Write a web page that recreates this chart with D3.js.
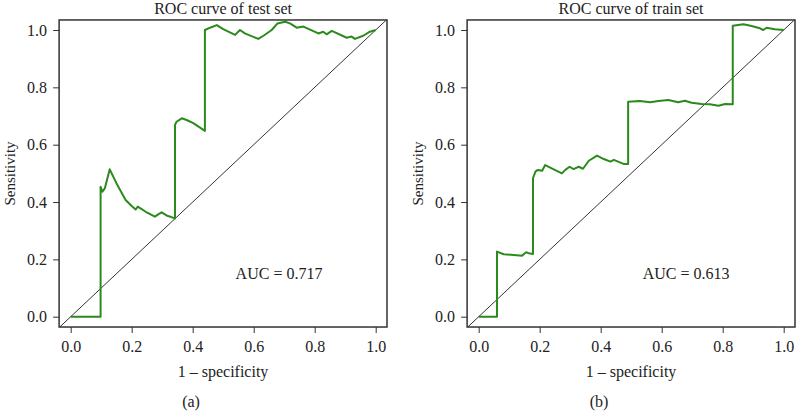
<!DOCTYPE html>
<html><head><meta charset="utf-8">
<script src="https://cdn.jsdelivr.net/npm/d3@7"></script>
<style>body{margin:0;background:#fff}svg{display:block}text{font-family:"Liberation Serif","DejaVu Serif",serif;fill:#222}</style>
</head><body>
<svg id="c" width="797" height="412"></svg>
<script>
const ticks = [0, 0.2, 0.4, 0.6, 0.8, 1.0];
const tickLabels = ["0.0", "0.2", "0.4", "0.6", "0.8", "1.0"];
const titles = ["ROC curve of test set", "ROC curve of train set"];
const aucLabels = ["AUC = 0.717", "AUC = 0.613"];
const panelLabels = ["(a)", "(b)"];
const testFPR = [0,0.098,0.098,0.098,0.098,0.104,0.112,0.128,0.153,0.18,0.2,0.213,0.22,0.246,0.276,0.287,0.298,0.317,0.342,0.342,0.347,0.364,0.38,0.402,0.44,0.44,0.457,0.479,0.5,0.539,0.555,0.571,0.615,0.632,0.659,0.678,0.703,0.719,0.741,0.763,0.812,0.828,0.839,0.856,0.905,0.921,0.932,0.959,0.981,1.0];
const testTPR = [0,0,0.215,0.44,0.453,0.436,0.448,0.514,0.459,0.407,0.386,0.374,0.384,0.366,0.349,0.357,0.364,0.352,0.343,0.669,0.68,0.692,0.686,0.675,0.648,1.0,1.008,1.017,1.003,0.983,1.0,0.988,0.969,0.98,1.0,1.023,1.029,1.023,1.008,1.012,0.988,0.994,0.985,0.997,0.973,0.977,0.969,0.98,0.994,1.0];
const trainFPR = [0,0.06,0.06,0.082,0.115,0.142,0.156,0.164,0.178,0.178,0.186,0.194,0.208,0.218,0.246,0.273,0.284,0.298,0.311,0.328,0.342,0.361,0.388,0.41,0.432,0.443,0.475,0.49,0.49,0.529,0.562,0.589,0.622,0.654,0.676,0.698,0.731,0.758,0.786,0.808,0.833,0.833,0.868,0.895,0.922,0.933,0.944,0.971,1.0];
const trainTPR = [0,0,0.227,0.218,0.215,0.213,0.225,0.221,0.219,0.483,0.506,0.512,0.509,0.529,0.514,0.5,0.512,0.523,0.515,0.523,0.516,0.544,0.562,0.55,0.541,0.547,0.533,0.533,0.75,0.752,0.748,0.752,0.756,0.748,0.753,0.746,0.742,0.741,0.736,0.742,0.741,1.015,1.02,1.014,1.006,1.0,1.008,1.003,1.0];
const aucPos = [[0.683, 0.153], [0.68, 0.153]];

const svg = d3.select("#c");
const panels = [{fpr: testFPR, tpr: testTPR}, {fpr: trainFPR, tpr: trainTPR}];
const offsets = [0, 408];

panels.forEach((p, i) => {
  const g = svg.append("g").attr("transform", `translate(${offsets[i]},0)`);
  const x = d3.scaleLinear().domain([0, 1]).range([70.7, 375.7]);
  const y = d3.scaleLinear().domain([0, 1]).range([316.7, 30]);
  const x0 = x(-0.038), x1 = x(1.037), y0 = y(-0.036), y1 = y(1.035);
  const cid = "clip" + i;
  g.append("clipPath").attr("id", cid).append("rect")
    .attr("x", x0).attr("y", y1).attr("width", x1 - x0).attr("height", y0 - y1);

  // diagonal
  g.append("line").attr("clip-path", `url(#${cid})`)
    .attr("x1", x(-0.05)).attr("y1", y(-0.05)).attr("x2", x(1.05)).attr("y2", y(1.05))
    .attr("stroke", "#000").attr("stroke-width", 0.8);

  // curve
  const pts = p.fpr.map((v, k) => [v, p.tpr[k]]);
  g.append("path").datum(pts)
    .attr("d", d3.line().x(d => x(d[0])).y(d => y(d[1])))
    .attr("fill", "none").attr("stroke", "#2b8a1c").attr("stroke-width", 2)
    .attr("stroke-linejoin", "round");

  // box
  g.append("rect").attr("x", x0).attr("y", y1).attr("width", x1 - x0).attr("height", y0 - y1)
    .attr("fill", "none").attr("stroke", "#333").attr("stroke-width", 1.5);

  // x axis
  const xa = g.append("g").attr("transform", `translate(0,${y0})`)
    .call(d3.axisBottom(x).tickValues(ticks).tickFormat((d, k) => tickLabels[k]).tickSize(6).tickPadding(8));
  xa.select(".domain").remove();
  xa.selectAll("line").attr("stroke", "#333");
  xa.selectAll("text").style("font-size", "16px").attr("fill", "#222");

  // y axis
  const ya = g.append("g").attr("transform", `translate(${x0},0)`)
    .call(d3.axisLeft(y).tickValues(ticks).tickFormat((d, k) => tickLabels[k]).tickSize(6).tickPadding(6));
  ya.select(".domain").remove();
  ya.selectAll("line").attr("stroke", "#333");
  ya.selectAll("text").style("font-size", "16px").attr("fill", "#222");

  // titles
  g.append("text").attr("x", (x0 + x1) / 2).attr("y", 14).attr("text-anchor", "middle")
    .style("font-size", "16px").text(titles[i]);
  g.append("text").attr("x", (x0 + x1) / 2).attr("y", 377).attr("text-anchor", "middle")
    .style("font-size", "16px").text("1 – specificity");
  g.append("text").attr("transform", `translate(15,${(y0 + y1) / 2}) rotate(-90)`)
    .attr("text-anchor", "middle").style("font-size", "15px").text("Sensitivity");
  g.append("text").attr("x", x(aucPos[i][0])).attr("y", y(aucPos[i][1]) + 6).attr("text-anchor", "middle")
    .style("font-size", "16px").text(aucLabels[i]);
  g.append("text").attr("x", (x0 + x1) / 2 - 32).attr("y", 407).attr("text-anchor", "middle")
    .style("font-size", "16px").text(panelLabels[i]);
});
</script>
</body></html>
